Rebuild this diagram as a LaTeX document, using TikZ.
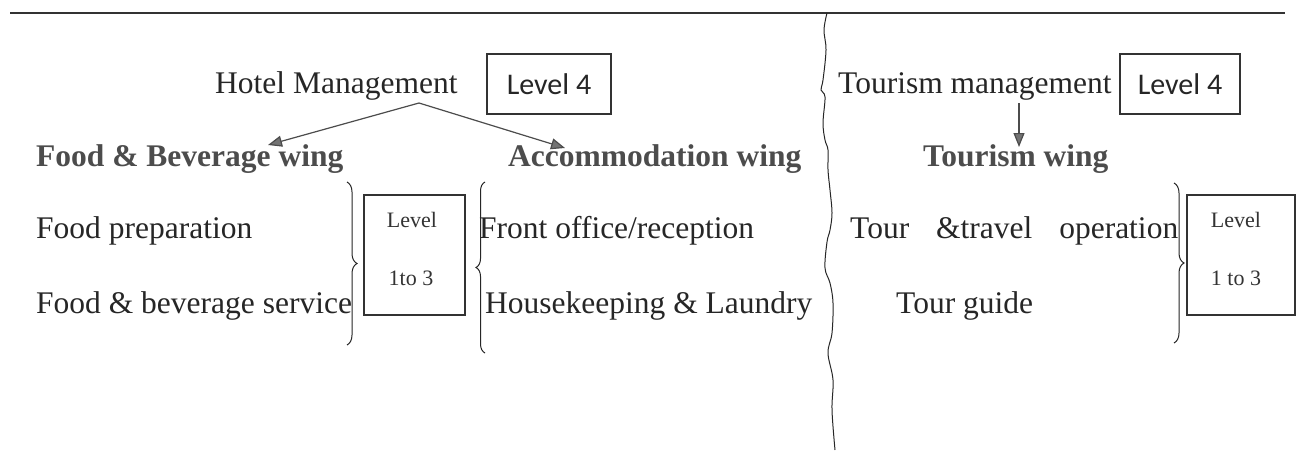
\documentclass[tikz,border=0pt]{standalone}
\usepackage{fontspec}
\setmainfont{Liberation Serif}
\newfontfamily\calibfont{Carlito}
\usetikzlibrary{arrows.meta,decorations.pathreplacing}
\begin{document}
\begin{tikzpicture}[x=1pt,y=-1pt,
  txt/.style={anchor=base west, inner sep=0pt, font=\fontsize{31.5}{36}\selectfont, text=black!85},
  head/.style={anchor=base west, inner sep=0pt, font=\fontsize{31.5}{36}\selectfont\bfseries, text=black!70},
  lvlbox/.style={draw=black!80, line width=1.3pt, inner sep=0pt, font=\calibfont\fontsize{30}{34}\selectfont, text=black!85},
  rangebox/.style={draw=black!80, line width=1.3pt, inner sep=0pt},
  smalltxt/.style={inner sep=0pt, font=\fontsize{22}{25}\selectfont, text=black!80},
  brc/.style={draw=black!85, line width=1pt, decorate, decoration={brace, amplitude=#1}},
  arr/.style={draw=black!70, line width=1.2pt, -{Triangle[length=14pt,width=11pt,fill=black!55]}},
  rule/.style={draw=black!80, line width=1.6pt},
]
\useasboundingbox (0,0) rectangle (1300,450);
\fill[white] (0,0) rectangle (1300,450);

% top rule and wavy divider
\coordinate (ruleL) at (10,13);
\coordinate (ruleR) at (1285,13);
\draw[rule] (ruleL) -- (ruleR);
\draw[draw=black!85, line width=1pt] plot[smooth, tension=0.6] coordinates {
 (827,13) (824,30) (826,50) (823,80) (821,90) (825,97) (823,123) (825,140)
 (828,150) (828,170) (830,190) (832,213) (830,230) (827,242) (825,268)
 (830,283) (833,303) (832,333) (828,353) (833,380) (832,410) (835,450)};

% top level
\node[txt] (hm) at (215,93) {Hotel Management};
\node[lvlbox, minimum width=124pt, minimum height=60pt] (lv4a) at (549,84) {Level 4};
\node[txt] (tm) at (838,93) {Tourism management};
\node[lvlbox, minimum width=120pt, minimum height=60pt] (lv4b) at (1180,84) {Level 4};

% wings
\node[head] (fbw) at (36,166) {Food \& Beverage wing};
\node[head] (acw) at (508,166) {Accommodation wing};
\node[head] (tw) at (923,166) {Tourism wing};

% arrows
\coordinate (apx) at (419,103);
\coordinate (fbtip) at (268,145);
\coordinate (actip) at (565,148);
\draw[arr] (apx) -- (fbtip);
\draw[arr] (apx) -- (actip);
\coordinate (tmfoot) at (1019,103);
\coordinate (twtip) at (1019,147);
\draw[arr] (tmfoot) -- (twtip);

% sub units
\node[txt] (fp) at (36,238) {Food preparation};
\node[txt] (fbs) at (36,313) {Food \& beverage service};
\node[txt] (fo) at (479,238) {Front office/reception};
\node[txt] (hk) at (485,313) {Housekeeping \& Laundry};
\node[txt] (tt) at (850,238) {\makebox[328pt][s]{Tour \&travel operation}};
\node[txt] (tg) at (896,313) {Tour guide};

% level 1 to 3 boxes
\node[rangebox, minimum width=101pt, minimum height=120pt] (lr1) at (414.5,255) {};
\node[smalltxt] (lr1a) at (412,220) {Level};
\node[smalltxt] (lr1b) at (411,278) {1to 3};
\node[rangebox, minimum width=108pt, minimum height=120pt] (lr2) at (1241,255) {};
\node[smalltxt] (lr2a) at (1236,220) {Level};
\node[smalltxt] (lr2b) at (1236,278) {1 to 3};

% braces
\coordinate (b1t) at (347,182);
\coordinate (b1b) at (347,345);
\draw[brc=10pt] (b1t) -- (b1b);
\coordinate (b2b) at (485,353);
\coordinate (b2t) at (485,182);
\draw[brc=9pt] (b2b) -- (b2t);
\coordinate (b3t) at (1174,183);
\coordinate (b3b) at (1174,343);
\draw[brc=10pt] (b3t) -- (b3b);
\end{tikzpicture}
\end{document}
